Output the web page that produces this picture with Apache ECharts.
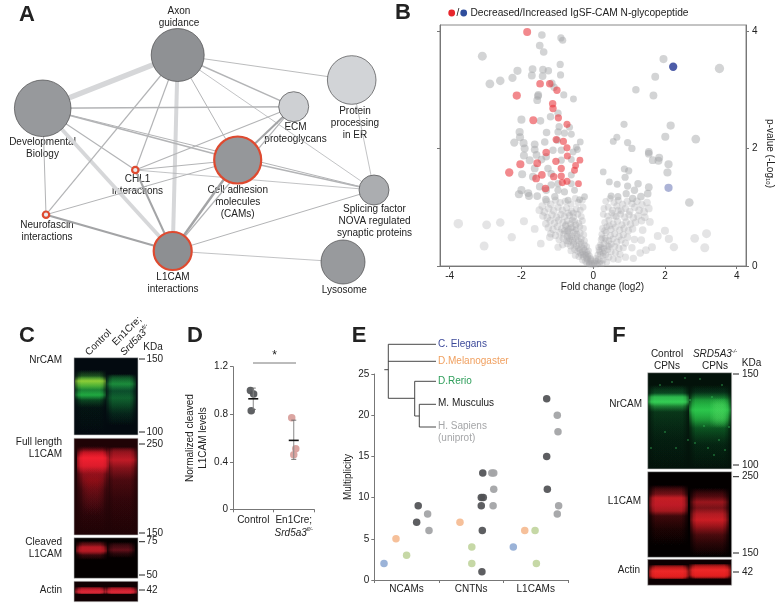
<!DOCTYPE html>
<html><head><meta charset="utf-8">
<style>html,body{margin:0;padding:0;background:#fff}#c{width:776px;height:603px}</style>
<script src="https://cdn.jsdelivr.net/npm/echarts@6/dist/echarts.min.js"></script></head>
<body><div id="c"></div>
<script>
// ---------- Panel A data (network, positions in figure units) ----------
const nodeNames=['Axon guidance','Developmental Biology','Protein processing in ER','ECM proteoglycans','Cell adhesion molecules (CAMs)','Splicing factor NOVA','CHL1 interactions','Neurofascin interactions','L1CAM interactions','Lysosome'];
const nodeX=[177.7,42.7,351.7,293.7,237.7,374,135.3,46,172.7,343];
const nodeY=[55,108.3,80,106.7,160,190,170,214.7,251,262];
const nodeRadius=[26.5,28.3,24.3,15,23.5,15,3.2,3.2,19,22];
const nodeTone=[145,153,212,208,151,173,235,235,143,154];
const nodeHighlighted=[0,0,0,0,1,0,1,1,1,0];
const edgeFrom=[0,0,1,0,0,0,0,0,0,1,1,1,1,1,3,3,3,4,4,4,4,6,6,7,8,8,2];
const edgeTo  =[1,8,8,2,3,4,6,7,5,3,4,6,7,5,6,4,8,8,6,7,5,8,5,8,5,9,5];
const edgeWeight=[5.5,4,3.8,.9,1.4,1,1.2,1.2,.8,1.5,1.6,1.2,1,1,1.2,2,1.2,2.4,1,1,1.4,2,.8,2.2,1,.8,.8];

// ---------- Panel B data (volcano) ----------
const volcanoX=[-4,-2,0,2,4], volcanoY=[0,2,4];
const redPeptides=[[-1.84,3.98],[-1.48,3.1],[-1.21,3.1],[-1.01,2.99],[-2.13,2.9],[-1.13,2.76],[-1.12,2.68],[-.97,2.52],[-1.67,2.48],[-.73,2.41],[-1.03,2.15],[-.83,2.12],[-.73,2.01],[-1.31,1.93],[-.72,1.87],[-2.03,1.73],[-1.56,1.75],[-1.04,1.78],[-.37,1.8],[-.49,1.71],[-.89,1.66],[-.52,1.63],[-2.34,1.59],[-1.43,1.55],[-1.59,1.49],[-1.1,1.52],[-.89,1.53],[-.86,1.42],[-.73,1.44],[-.41,1.4],[-1.33,1.32]];
const bluePeptides=[[2.23,3.39]];
const paleBluePeptides=[[2.1,1.33]];
const grayUpper=[[-1.43,3.93],[-.9,3.88],[-.85,3.84],[-1.49,3.75],[-1.38,3.64],[-3.09,3.57],[-.92,3.43],[-1.69,3.35],[-2.11,3.32],[-1.4,3.34],[-1.25,3.32],[-.91,3.25],[-1.71,3.24],[-2.25,3.2],[-1.41,3.23],[-2.59,3.15],[-2.88,3.1],[-1.15,3.11],[-1.09,3.04],[-1.53,2.91],[-1.54,2.89],[-.82,2.91],[-.55,2.84],[-1.56,2.82],[-.98,2.6],[-1.19,2.54],[-2,2.49],[-1.47,2.47],[-2.05,2.28],[-2.04,2.19],[-.95,2.37],[-.66,2.36],[-.98,2.28],[-1.3,2.27],[-.61,2.24],[-.8,2.26],[-2.2,2.1],[-1.94,2.09],[-1.63,2.07],[-1.35,2.11],[-.36,2.11],[-1,2.14],[-1.91,2],[-1.63,1.98],[-.47,2.02],[-.44,1.98],[-.56,1.94],[-.89,1.97],[-1.12,1.97],[-1.93,1.88],[-1.58,1.89],[-1.31,1.86],[-1.77,1.8],[-1.44,1.81],[-.61,1.81],[-.89,1.8],[-1.98,1.56],[-1.63,1.66],[-1.26,1.66],[-.61,1.55],[-1.17,1.57],[-1.68,1.52],[-1.49,1.35],[-.98,1.4],[-1.17,1.38],[-.61,1.4],[-2,1.29],[-2.07,1.22],[-1.81,1.24],[-1.79,1.19],[-1.56,1.19],[-1.31,1.29],[-.98,1.29],[-.8,1.26],[-.52,1.29],[-.24,1.18],[-1.32,1.13],[-1.07,1.18],[-.7,1.12],[-.38,1.13],
[1.96,3.52],[3.52,3.36],[1.73,3.22],[1.19,3],[1.68,2.9],[.86,2.41],[2.16,2.39],[2.01,2.2],[2.86,2.16],[.66,2.19],[.56,2.12],[.96,2.1],[1.08,2],[1.55,1.94],[1.55,1.91],[1.66,1.8],[1.84,1.84],[1.82,1.79],[2.1,1.73],[2.07,1.59],[.87,1.65],[.99,1.62],[.28,1.6],[.89,1.51],[.45,1.43],[.67,1.39],[1.25,1.4],[.96,1.36],[1.55,1.34],[2.68,1.08],[1.15,1.29],[.92,1.23],[1.33,1.18],[1.52,1.23],[.5,1.19],[.69,1.18],[1.1,1.15]];
const grayLower=[[-3.76,.72],[-2.97,.7],[-2.59,.74],[-1.93,.76],[-1.63,.63],[-2.27,.49],[-3.04,.34],[-1.46,.38],[-1.21,.49],[-.98,.32],[2,.6],[1.8,.51],[2.11,.46],[2.83,.47],[3.16,.55],[3.11,.31],[2.25,.32],[1.64,.32],[1.31,.22],[1.12,.13],[1.47,.27],[1.08,.31],[1.34,.44],[1.15,.45],[1.38,.61],[1.58,.75],[1.35,.77],
[-1.42,1.02],[-1.3,1.1],[-1.18,1.05],[-1.05,1.12],[-.92,1.08],[-.78,1.1],[-.62,1.05],[-.5,1.15],[-.42,1.08],[-.3,1.12],[-1.5,.95],[-1.36,.92],[-1.24,.98],[-1.1,.94],[-.98,1],[-.86,.95],[-.74,.99],[-.6,.93],[-.47,.97],[-.36,.95],[-.28,1],[-1.4,.85],[-1.28,.82],[-1.15,.87],[-1.02,.83],[-.9,.88],[-.8,.84],[-.66,.86],[-.55,.83],[-.43,.88],[-.33,.84],[-1.32,.72],[-1.2,.77],[-1.08,.73],[-.96,.78],[-.84,.74],[-.72,.77],[-.63,.72],[-.52,.76],[-.4,.73],[-.3,.77],[-1.25,.65],[-1.12,.62],[-1,.67],[-.88,.63],[-.77,.68],[-.69,.63],[-.58,.66],[-.47,.63],[-.37,.67],[-.27,.64],[-1.18,.55],[-1.05,.52],[-.93,.57],[-.82,.54],[-.73,.58],[-.64,.53],[-.55,.57],[-.45,.54],[-.36,.56],[-.26,.53],[-.95,.45],[-.84,.47],[-.74,.43],[-.66,.47],[-.57,.44],[-.49,.47],[-.41,.43],[-.33,.46],[-.24,.43],[-.85,.36],[-.72,.38],[-.63,.34],[-.55,.37],[-.47,.34],[-.39,.37],[-.32,.33],[-.24,.36],[-.18,.33],[-.62,.26],[-.52,.28],[-.44,.25],[-.37,.28],[-.3,.24],[-.24,.27],[-.18,.24],[-.13,.26],[-.5,.18],[-.4,.16],[-.33,.19],[-.27,.15],[-.2,.18],[-.15,.15],[-.1,.17],[-.3,.1],[-.22,.08],[-.16,.11],[-.12,.07],[-.07,.09],[-.18,.05],[-.1,.04],[-.05,.05],[-.03,.02],[-.08,.13],
[-.76,.7],[-.7,.6],[-.62,.65],[-.6,.5],[-.68,.42],[-.54,.4],[-.5,.6],[-.44,.5],[-.8,.6],[-.72,.5],[-.42,.3],[-.36,.22],[-.28,.2],[-.34,.4],[-.55,.9],[-.7,.9],[-.48,.7],[-.58,.78],[-.23,.2],[-.14,.2],[-.06,.11],[-.11,.03],[-.19,.13],[-.26,.3],
[.35,1.1],[.47,1.15],[.58,1.08],[.7,1.12],[.82,1.05],[.95,1.1],[1.08,1.06],[1.22,1.1],[1.36,1.04],[1.5,1.08],[.3,.98],[.42,1],[.54,.95],[.66,1.02],[.78,.94],[.9,.98],[1.02,.93],[1.16,1],[1.28,.95],[1.42,.92],[1.55,.98],[.28,.88],[.4,.85],[.52,.9],[.64,.84],[.76,.88],[.88,.83],[1,.87],[1.12,.82],[1.25,.85],[1.44,.83],[.32,.74],[.44,.78],[.56,.72],[.68,.76],[.8,.7],[.92,.75],[1.04,.71],[1.18,.74],[.26,.64],[.38,.67],[.5,.62],[.62,.66],[.74,.61],[.86,.64],[.98,.6],[1.1,.63],[.24,.54],[.36,.57],[.48,.52],[.6,.55],[.72,.5],[.84,.53],[.96,.49],[.22,.45],[.33,.47],[.44,.43],[.55,.46],[.66,.41],[.78,.44],[.9,.39],[.2,.36],[.3,.38],[.4,.34],[.5,.37],[.6,.33],[.72,.3],[.84,.31],[.16,.27],[.24,.29],[.32,.25],[.41,.28],[.5,.24],[.62,.22],[.75,.2],[.9,.15],[.13,.19],[.2,.2],[.27,.17],[.35,.19],[.44,.15],[.56,.12],[.7,.11],[.08,.13],[.14,.11],[.2,.08],[.28,.1],[.38,.07],[.03,.05],[.07,.04],[.12,.03],[.18,.05],[.25,.04],[.02,.02],
[.22,.33],[.3,.3],[.36,.44],[.28,.22],[.44,.33],[.25,.48],[.32,.6],[.18,.24],[.15,.32],[.1,.08],[.06,.09],[.45,.68],[.58,.85],[.7,.95]];

// ---------- Panel D data ----------
const dCategories=['Control','En1Cre'];
const dPoints=[[.43,1],[.51,.97],[.45,.83],[1.45,.77],[1.55,.51],[1.5,.46]];
const dMean=[.93,.58], dLow=[.84,.42], dHigh=[1.02,.75];

// ---------- Panel E data ----------
const eCategories=['NCAMs','CNTNs','L1CAMs'];
const eElegans=[[.15,2],[2.153,4]];
const eMelanogaster=[[.336,5],[1.327,7],[2.33,6]];
const eRerio=[[.5,3],[1.51,2],[1.51,4],[2.49,6],[2.51,2]];
const eMusculus=[[.68,9],[.656,7],[1.68,13],[1.657,10],[1.688,10],[1.657,9],[1.673,6],[1.667,1],[2.67,22],[2.67,15],[2.68,11]];
const eSapiens=[[.826,8],[.847,6],[1.82,13],[1.85,13],[1.85,11],[1.84,9],[2.834,20],[2.845,18],[2.855,9],[2.834,8]];

// ---------- helpers for drawn annotations ----------
const FONT='"Liberation Sans",Arial,sans-serif';
const G=[];
function text(x,y,t,o={}){G.push({type:'text',x,y,rotation:o.rot||0,silent:true,style:{text:t,fill:o.fill||'#222',font:(o.font||'10px')+' '+FONT,align:o.align||'center',verticalAlign:'middle',lineHeight:o.lh||12.2,rich:o.rich}});}
function seg(x1,y1,x2,y2,c='#333',w=1){G.push({type:'line',silent:true,shape:{x1,y1,x2,y2},style:{stroke:c,lineWidth:w}});}
function rect(x1,y1,x2,y2,fill){G.push({type:'rect',silent:true,shape:{x:x1,y:y1,width:x2-x1,height:y2-y1},style:{fill,stroke:'#c4c4c4',lineWidth:.6}});}
function hex(c,a){const n=parseInt(c.slice(1),16);return `rgba(${n>>16},${(n>>8)&255},${n&255},${a})`;}
// a gel lane: vertical intensity profile [[y,colour,alpha],...], softened at the lane edges by nested insets
const INSETS=[0,1.5,3,4.5,6];
function lane(x1,x2,prof){const y0=prof[0][0],yn=prof[prof.length-1][0];
 INSETS.forEach(ins=>{G.push({type:'rect',silent:true,shape:{x:x1+ins,y:y0,width:x2-x1-2*ins,height:yn-y0},
  style:{fill:new echarts.graphic.LinearGradient(0,0,0,1,prof.map(([y,c,a])=>({offset:(y-y0)/(yn-y0),color:hex(c,1-Math.pow(1-Math.min(a,.985),1/INSETS.length))})))}});});}

// Panel letters
[['A',27,15],['B',403,13],['C',27,336],['D',195,336],['E',359,336],['F',619,336]].forEach(([l,x,y])=>text(x,y,l,{font:'bold 22px'}));

// Panel A labels
[['Axon\nguidance',179,17],['Developmental\nBiology',42.5,148],['Protein\nprocessing\nin ER',355,123.5],['ECM\nproteoglycans',295.5,133],['CHL1\ninteractions',137.5,185],['Neurofascin\ninteractions',47,231.5],['Cell adhesion\nmolecules\n(CAMs)',237.7,202],['Splicing factor\nNOVA regulated\nsynaptic proteins',374.5,221],['L1CAM\ninteractions',173,283],['Lysosome',344.3,290.5]].forEach(([t,x,y])=>text(x,y,t));

// Panel B legend
G.push({type:'circle',silent:true,shape:{cx:451.7,cy:13,r:3.4},style:{fill:'#e8262c'}});
text(458,13,'/');
G.push({type:'circle',silent:true,shape:{cx:463.7,cy:13,r:3.4},style:{fill:'#2f4d9c'}});
text(470.5,13,'Decreased/Increased IgSF-CAM N-glycopeptide',{align:'left',font:'10.2px'});

// Panel C blots
rect(74,357.7,138,435,'#030a10');
lane(75,106,[[370,'#2a8a30',0],[376,'#3a9a30',.5],[381,'#8fd038',1],[386,'#4fb838',.95],[390,'#1f9a3c',.85],[395,'#22b043',.95],[400,'#127a30',.55],[408,'#062a18',.3],[435,'#062a18',0]]);
lane(106,136,[[374,'#1a8a3a',0],[379,'#1a8a3a',.7],[384,'#1e9a40',.9],[391,'#0f6a38',.7],[398,'#15803a',.75],[406,'#0f6a30',.6],[414,'#0a4a28',.4],[425,'#0a4a28',0]]);
rect(74,438.3,138,535,'#1f0306');
lane(77,109,[[446,'#500810',0],[452,'#e01828',.8],[458,'#f52030',1],[466,'#e01c2c',1],[474,'#a81420',.8],[490,'#701018',.55],[510,'#400a10',.45],[530,'#280608',.3],[534,'#280608',.1]]);
lane(82,104,[[468,'#a01018',0],[480,'#a01018',.6],[500,'#701018',.4],[515,'#701018',0]]);
lane(107,137,[[447,'#b01824',0],[452,'#b01824',.8],[460,'#c81c28',.95],[468,'#a01620',.8],[480,'#701018',.55],[500,'#480a10',.45],[530,'#280608',.3],[534,'#280608',.1]]);
rect(74,537.7,138,578.3,'#040000');
lane(76,107,[[541,'#a01820',0],[545,'#a01820',.7],[547,'#c81c28',.9],[551,'#b81a24',1],[555,'#701018',.5],[560,'#701018',0]]);
lane(107,135,[[542,'#5a1018',0],[546,'#5a1018',.7],[550,'#7a1420',.8],[554,'#4a0c14',.5],[558,'#4a0c14',0]]);
rect(74,581.3,138,601.7,'#100002');
lane(75,106,[[586.5,'#d82030',0],[589.5,'#d82030',.9],[592,'#e02838',1],[594.5,'#e02838',0]]);
lane(105,137,[[586.5,'#d82030',0],[589.5,'#d82030',.9],[592,'#e02838',1],[594.5,'#e02838',0]]);
[[359,'150'],[432,'100'],[444,'250'],[533,'150'],[541.7,'75'],[575,'50'],[590,'42']].forEach(([y,t])=>{seg(139,y,145,y,'#222',1);text(146.5,y,t,{align:'left'});});
text(153,347,'KDa');
text(62,360,'NrCAM',{align:'right'});text(62,448,'Full length\nL1CAM',{align:'right'});text(62,548.5,'Cleaved\nL1CAM',{align:'right'});text(62,590,'Actin',{align:'right'});
text(87,354,'Control',{align:'left',rot:Math.PI/4});
text(114,344,'En1Cre;',{align:'left',rot:Math.PI/4});
const ital={i:{fontStyle:'italic',fontSize:10,fontFamily:FONT,fill:'#222'},s:{fontStyle:'italic',fontSize:5.5,fontFamily:FONT,fill:'#222',verticalAlign:'top'}};
text(122,354,'{i|Srd5a3}{s|fl/-}',{align:'left',rot:Math.PI/4,rich:ital});

// Panel D annotations
seg(253,363,296,363,'#555',.8);text(274.5,356,'*',{font:'12px'});

// Panel E dendrogram
[[384.3,369.7,388.3,369.7],[388.3,344.3,388.3,398.3],[388.3,344.3,436,344.3],[388.3,361.3,436,361.3],[388.3,398.3,414.7,398.3],[414.7,381.3,414.7,416],[414.7,381.3,436,381.3],[414.7,416,419.3,416],[419.3,404.3,419.3,427],[419.3,404.3,436,404.3],[419.3,427,436,427]].forEach(s=>seg(...s,'#333',.9));
text(438,344,'C. Elegans',{align:'left',fill:'#3d4a9a'});
text(438,361,'D.Melanogaster',{align:'left',fill:'#f0a060'});
text(438,381,'D.Rerio',{align:'left',fill:'#2e9e5a'});
text(438,403,'M. Musculus',{align:'left',fill:'#222'});
text(438,432,'H. Sapiens\n(uniprot)',{align:'left',fill:'#a5a6a8'});

// Panel F blots
const speck=[[690,400],[672,382],[700,379],[712,397],[722,385],[704,426],[688,440],[695,443],[725,450],[660,385],[665,432],[676,448],[714,455],[708,448],[729,427],[651,448],[685,378],[719,440]];
rect(647.7,372.7,731.7,469,'#03120a');
lane(648,689,[[385,'#0f6a30',0],[393,'#0f6a30',.6],[397,'#2fc050',.95],[402,'#35d055',1],[406,'#25a040',.8],[412,'#0f5a28',.5],[440,'#08301a',.4],[469,'#08301a',0]]);
lane(689,731,[[385,'#0a4a25',0],[392,'#0a4a25',.5],[400,'#20b040',.85],[410,'#2cc84c',1],[420,'#22b040',.85],[428,'#128030',.6],[445,'#083a1c',.45],[469,'#083a1c',0]]);
lane(710,729,[[398,'#50d860',0],[405,'#50d860',.5],[418,'#50d860',.5],[428,'#50d860',0]]);
speck.forEach(([cx,cy])=>G.push({type:'circle',silent:true,shape:{cx,cy,r:.8},style:{fill:'#3fd868',opacity:.7}}));
rect(647.7,471.7,731.7,557.3,'#030000');
lane(649,688,[[485,'#a01820',0],[494,'#a01820',.7],[498,'#d82028',.9],[505,'#c81c28',.95],[511,'#c01c24',.85],[516,'#701014',.55],[530,'#380808',.45],[545,'#380808',0]]);
lane(690,729,[[488,'#801018',0],[496,'#801018',.6],[502,'#c01c24',.8],[508,'#a01820',.75],[514,'#d02028',.85],[520,'#e02028',.9],[527,'#b81820',.8],[535,'#701014',.65],[545,'#400a0c',.55],[556,'#400a0c',0]]);
rect(647.7,559.3,731.7,585.3,'#0c0002');
lane(649,689,[[564.5,'#d82020',0],[568,'#d82020',.9],[571,'#f02828',1],[576,'#e82020',1],[579.5,'#e82020',0]]);
lane(689,731,[[563.5,'#d82020',0],[567,'#d82020',.9],[570,'#f02828',1],[575,'#e82020',1],[579,'#e82020',0]]);
[[374,'150'],[465,'100'],[476.7,'250'],[553,'150'],[572,'42']].forEach(([y,t])=>{seg(733,y,739,y,'#222',1);text(742,y,t,{align:'left'});});
text(751.5,363,'KDa');
text(667,360.5,'Control\nCPNs');
text(715,360.5,'{i|SRD5A3}{s|-/-}\nCPNs',{rich:ital});
text(642,404,'NrCAM',{align:'right'});text(641,501.7,'L1CAM',{align:'right'});text(640,570,'Actin',{align:'right'});

// ---------- chart ----------
const axisCol='#777',lab={color:'#222',fontSize:10,fontFamily:FONT};
const hiddenVal=(gridIndex,min,max,extra={})=>({type:'value',gridIndex,min,max,show:false,...extra});
const volSize=v=>6.5+.8*Math.abs(v[0]);
const scat=(name,data,x,y,color,size,op=1)=>({name,type:'scatter',xAxisIndex:x,yAxisIndex:y,data,symbolSize:size,itemStyle:{color,opacity:op},silent:true,animation:false});
const nodes=nodeNames.map((n,i)=>{const t=nodeTone[i];return {name:n,value:[nodeX[i],nodeY[i]],symbolSize:2*nodeRadius[i],itemStyle:{color:`rgb(${t-2},${t},${t+3})`,borderColor:nodeHighlighted[i]?'#de4a30':'#4a4a4c',borderWidth:nodeHighlighted[i]?2.2:.7}};});
const links=edgeFrom.map((s,i)=>{const w=edgeWeight[i];return {source:s,target:edgeTo[i],lineStyle:{width:w,color:w>3?'#d6d7d9':(w>=2?'#a3a4a6':'#b3b4b6'),opacity:1,curveness:0}};});
const volLine={show:true,onZero:false,lineStyle:{color:axisCol}};

const chart=echarts.init(document.getElementById('c'),null,{renderer:'canvas'});
chart.setOption({animation:false,backgroundColor:'#fff',
 grid:[
  {left:0,top:0,width:776,height:603},
  {left:440,top:25,width:307,height:241,show:true,borderColor:'#888',borderWidth:1,backgroundColor:'transparent'},
  {left:233,top:366.7,width:81,height:142.6},
  {left:374.3,top:374,width:193.7,height:206}
 ],
 xAxis:[
  hiddenVal(0,0,776),
  {type:'value',gridIndex:1,min:-4.27,max:4.26,axisLine:volLine,axisTick:{show:true,length:3,lineStyle:{color:axisCol},customValues:volcanoX},splitLine:{show:false},axisLabel:{...lab,margin:5,customValues:volcanoX,formatter:v=>String(v)},name:'Fold change (log2)',nameLocation:'middle',nameGap:15,nameTextStyle:{...lab,padding:[0,0,0,19]}},
  {type:'category',gridIndex:2,data:dCategories,axisLine:{lineStyle:{color:axisCol}},axisTick:{show:true,alignWithLabel:false,length:3,lineStyle:{color:axisCol}},axisLabel:{...lab,margin:5,interval:0,lineHeight:12.5,formatter:v=>v==='En1Cre'?'En1Cre;\n{i|Srd5a3}{s|fl/-}':v,rich:{i:{fontStyle:'italic',fontSize:10,fontFamily:FONT,color:'#222'},s:{fontStyle:'italic',fontSize:5.5,fontFamily:FONT,color:'#222',verticalAlign:'top'}}}},
  hiddenVal(2,0,2),
  {type:'category',gridIndex:3,data:eCategories,axisLine:{lineStyle:{color:axisCol}},axisTick:{show:true,alignWithLabel:false,length:3,lineStyle:{color:axisCol}},axisLabel:{...lab,margin:4}},
  hiddenVal(3,0,3)
 ],
 yAxis:[
  hiddenVal(0,0,603,{inverse:true}),
  {type:'value',gridIndex:1,min:0,max:4.1,position:'left',axisLine:volLine,axisTick:{show:true,length:3,lineStyle:{color:axisCol},customValues:volcanoY},splitLine:{show:false},axisLabel:{show:false}},
  {type:'value',gridIndex:1,min:0,max:4.1,position:'right',axisLine:volLine,axisTick:{show:true,length:3,lineStyle:{color:axisCol},customValues:volcanoY},splitLine:{show:false},axisLabel:{...lab,margin:6,customValues:volcanoY},name:'p-value (-Log{s|10})',nameLocation:'middle',nameRotate:-90,nameGap:19,nameTextStyle:{...lab,padding:[0,0,0,16],rich:{s:{fontSize:6,fontFamily:FONT,color:'#222',verticalAlign:'bottom'}}}},
  {type:'value',gridIndex:2,min:0,max:1.2,interval:.4,axisLine:{show:true,lineStyle:{color:axisCol}},axisTick:{show:true,length:3,lineStyle:{color:axisCol}},splitLine:{show:false},axisLabel:{...lab,margin:5,formatter:v=>v===0?'0':v.toFixed(1)},name:'Normalized cleaved\nL1CAM levels',nameLocation:'middle',nameGap:22,nameRotate:90,nameTextStyle:{...lab,lineHeight:13}},
  {type:'value',gridIndex:3,min:0,max:25,interval:5,axisLine:{show:true,lineStyle:{color:axisCol}},axisTick:{show:true,length:3,lineStyle:{color:axisCol}},splitLine:{show:false},axisLabel:{...lab,margin:5},name:'Multiplicity',nameLocation:'middle',nameGap:21,nameRotate:90,nameTextStyle:{...lab}}
 ],
 series:[
  {type:'graph',coordinateSystem:'cartesian2d',xAxisIndex:0,yAxisIndex:0,layout:'none',silent:true,data:nodes,links,edgeSymbol:['none','none'],label:{show:false},emphasis:{disabled:true},z:2},
  scat('gray low',grayLower,1,1,'#a4a6a8',volSize,.3),
  scat('gray high',grayUpper,1,1,'#a4a6a8',volSize,.48),
  scat('decreased',redPeptides,1,1,'#e8333a',volSize,.58),
  scat('increased',bluePeptides,1,1,'#3a4a9e',volSize,.9),
  scat('increased pale',paleBluePeptides,1,1,'#3a4a9e',volSize,.42),
  {name:'control points',type:'scatter',xAxisIndex:3,yAxisIndex:3,silent:true,data:dPoints,symbolSize:7.5,itemStyle:{color:p=>p.value[0]<1?'#55575b':'#d9a09c',opacity:.95}},
  {name:'error',type:'custom',xAxisIndex:3,yAxisIndex:3,silent:true,clip:false,data:dMean.map((m,i)=>[i+.5,m,dLow[i],dHigh[i]]),z:5,
   renderItem:(p,api)=>{const x=api.value(0),[,m]=api.coord([x,api.value(1)]),[cx,lo]=api.coord([x,api.value(2)]),[,hi]=api.coord([x,api.value(3)]);
    const L=(x1,y1,x2,y2,c,w)=>({type:'line',shape:{x1,y1,x2,y2},style:{stroke:c,lineWidth:w}});
    return {type:'group',children:[L(cx,lo,cx,hi,'#888',1),L(cx-2.5,lo,cx+2.5,lo,'#666',.9),L(cx-2.5,hi,cx+2.5,hi,'#666',.9),L(cx-5,m,cx+5,m,'#111',1.6)]};}},
  scat('C. Elegans',eElegans,5,4,'#9bb3d8',7.5),
  scat('D.Melanogaster',eMelanogaster,5,4,'#f6c09a',7.5),
  scat('D.Rerio',eRerio,5,4,'#c6d8a6',7.5),
  scat('M. Musculus',eMusculus,5,4,'#4f5054',7.5,.92),
  scat('H. Sapiens',eSapiens,5,4,'#a3a4a6',7.5,.95)
 ],
 graphic:{elements:G}
});
</script></body></html>
